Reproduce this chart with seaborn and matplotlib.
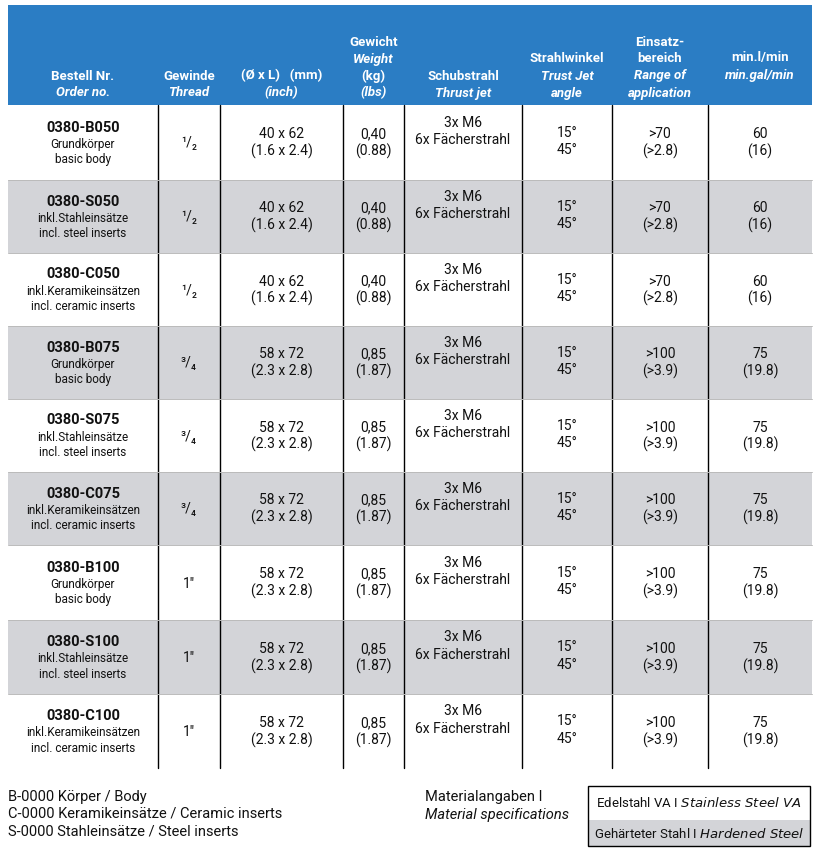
import matplotlib
matplotlib.use("Agg")
import matplotlib.pyplot as plt
import seaborn as sns
import numpy as np

sns.set_theme(style="white")
plt.rcParams['font.family'] = ['Roboto', 'DejaVu Sans']

order_no = ["0380-B050", "0380-S050", "0380-C050", "0380-B075", "0380-S075",
            "0380-C075", "0380-B100", "0380-S100", "0380-C100"]
desc_de = ["Grundkörper", "inkl.Stahleinsätze", "inkl.Keramikeinsätzen"] * 3
desc_en = ["basic body", "incl. steel inserts", "incl. ceramic inserts"] * 3
thread = ["¹/₂"] * 3 + ["³/₄"] * 3 + ["1\u2033"] * 3
size_mm = ["40 x 62"] * 3 + ["58 x 72"] * 6
size_in = ["(1.6 x 2.4)"] * 3 + ["(2.3 x 2.8)"] * 6
weight_kg = ["0,40"] * 3 + ["0,85"] * 6
weight_lb = ["(0.88)"] * 3 + ["(1.87)"] * 6
thrust = ["3x M6\n6x Fächerstrahl"] * 9
angle = ["15°\n45°"] * 9
range_bar = [">70"] * 3 + [">100"] * 6
range_psi = ["(>2.8)"] * 3 + ["(>3.9)"] * 6
flow_l = ["60"] * 3 + ["75"] * 6
flow_gal = ["(16)"] * 3 + ["(19.8)"] * 6
material = [0, 1, 0, 1, 0, 1, 0, 1, 0]  # 0 stainless, 1 hardened

BLUE = "#2B7DC4"
GREY = "#D3D4D8"

col_edges = [8, 158, 220, 343, 404, 522, 612, 708, 812]
row_edges = [105, 180, 253, 326, 399, 472, 545, 620, 694, 768]
hdr_top = 5

fig = plt.figure(figsize=(8.2, 8.52), dpi=100)
ax = fig.add_axes([0, 0, 1, 1])
ax.set_xlim(0, 820)
ax.set_ylim(852, 0)
ax.axis("off")

# header
ax.add_patch(plt.Rectangle((col_edges[0], hdr_top), col_edges[-1] - col_edges[0],
                           row_edges[0] - hdr_top, color=BLUE, lw=0))
# body backgrounds via pcolormesh
Z = np.array(material, dtype=float).reshape(-1, 1).repeat(len(col_edges) - 1, axis=1)
from matplotlib.colors import ListedColormap
ax.pcolormesh(col_edges, row_edges, Z, cmap=ListedColormap(["white", GREY]),
              vmin=0, vmax=1, shading="flat")
for x in col_edges[1:-1]:
    ax.plot([x, x], [row_edges[0], row_edges[-1]], color="black", lw=1)
for y in row_edges[1:-1]:
    ax.plot([col_edges[0], col_edges[-1]], [y, y], color="#BBBBBB", lw=0.7)

# header texts
hdr = [
    [("Bestell Nr.", "normal"), ("Order no.", "italic")],
    [("Gewinde", "normal"), ("Thread", "italic")],
    [("(Ø x L)   (mm)", "normal"), ("(inch)", "italic")],
    [("Gewicht", "normal"), ("Weight", "italic"), ("(kg)", "normal"), ("(lbs)", "italic")],
    [("Schubstrahl", "normal"), ("Thrust jet", "italic")],
    [("Strahlwinkel", "normal"), ("Trust Jet", "italic"), ("angle", "italic")],
    [("Einsatz-", "normal"), ("bereich", "normal"), ("Range of", "italic"), ("application", "italic")],
    [("min.l/min", "normal"), ("min.gal/min", "italic")],
]
for c, lines in enumerate(hdr):
    cx = (col_edges[c] + col_edges[c + 1]) / 2
    n = len(lines)
    for i, (t, st) in enumerate(lines):
        y = 93 - (n - 1 - i) * 17
        if c == 7:
            y = 90 - (n - 1 - i) * 17 - 15
        ax.text(cx, y, t, color="white", fontsize=9.5, fontweight="bold", style=st,
                ha="center", va="center")

# body
for r in range(len(order_no)):
    cy = (row_edges[r] + row_edges[r + 1]) / 2
    cxs = [(col_edges[c] + col_edges[c + 1]) / 2 for c in range(8)]
    ax.text(cxs[0], cy - 15, order_no[r], fontsize=10.5, fontweight="bold", ha="center", va="center", color="#111")
    ax.text(cxs[0], cy + 2, desc_de[r], fontsize=8.5, ha="center", va="center", color="#111")
    ax.text(cxs[0], cy + 17, desc_en[r], fontsize=8.5, ha="center", va="center", color="#111")
    ax.text(cxs[1], cy + 1, thread[r], fontsize=10, ha="center", va="center", color="#111")
    ax.text(cxs[2], cy - 8, size_mm[r], fontsize=10, ha="center", va="center", color="#111")
    ax.text(cxs[2], cy + 9, size_in[r], fontsize=10, ha="center", va="center", color="#111")
    ax.text(cxs[3], cy - 8, weight_kg[r], fontsize=10, ha="center", va="center", color="#111")
    ax.text(cxs[3], cy + 9, weight_lb[r], fontsize=10, ha="center", va="center", color="#111")
    ax.text(cxs[4], cy - 11, thrust[r], fontsize=10, ha="center", va="center", color="#111", linespacing=1.3)
    ax.text(cxs[5], cy - 1, angle[r], fontsize=10, ha="center", va="center", color="#111", linespacing=1.3)
    ax.text(cxs[6], cy - 8, range_bar[r], fontsize=10, ha="center", va="center", color="#111")
    ax.text(cxs[6], cy + 9, range_psi[r], fontsize=10, ha="center", va="center", color="#111")
    ax.text(cxs[7], cy - 8, flow_l[r], fontsize=10, ha="center", va="center", color="#111")
    ax.text(cxs[7], cy + 9, flow_gal[r], fontsize=10, ha="center", va="center", color="#111")

# footer
for i, t in enumerate(["B-0000 Körper / Body", "C-0000 Keramikeinsätze / Ceramic inserts",
                       "S-0000 Stahleinsätze / Steel inserts"]):
    ax.text(8, 797 + i * 17, t, fontsize=10.5, ha="left", va="center", color="#111")
ax.text(425, 797, "Materialangaben I", fontsize=10.5, ha="left", va="center", color="#111")
ax.text(425, 815, "Material specifications", fontsize=10.5, style="italic", ha="left", va="center", color="#111")
ax.add_patch(plt.Rectangle((588, 786), 222, 34, facecolor="white", edgecolor="none"))
ax.add_patch(plt.Rectangle((588, 820), 222, 26, facecolor=GREY, edgecolor="none"))
ax.add_patch(plt.Rectangle((588, 786), 222, 60, facecolor="none", edgecolor="black", lw=1))
ax.text(699, 803, "Edelstahl VA I $\\it{Stainless\\ Steel\\ VA}$", fontsize=9.5, ha="center", va="center", color="#111")
ax.text(699, 834, "Gehärteter Stahl I $\\it{Hardened\\ Steel}$", fontsize=9.5, ha="center", va="center", color="#111")

fig.savefig("out.png", dpi=100)
